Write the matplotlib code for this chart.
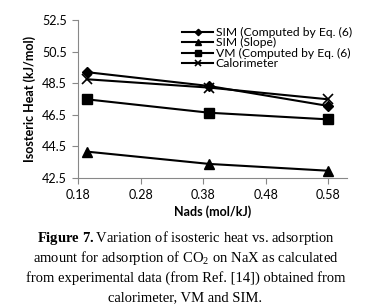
import matplotlib
matplotlib.use("Agg")
import matplotlib.pyplot as plt

plt.rcParams["font.family"] = ["Lato", "DejaVu Sans"]
plt.rcParams["mathtext.fontset"] = "custom"
plt.rcParams["mathtext.rm"] = "Liberation Serif"
plt.rcParams["mathtext.bf"] = "Liberation Serif:bold"

# data
nads = [0.194, 0.39, 0.58]
sim_eq6 = [49.2, 48.32, 47.06]
sim_slope = [44.17, 43.39, 42.96]
vm_eq6 = [47.48, 46.63, 46.21]
calorimeter = [48.75, 48.22, 47.48]

labels = ["SIM (Computed by Eq. (6)", "SIM (Slope)",
          "VM (Computed by Eq. (6)", "Calorimeter"]

x_ticks = [0.18, 0.28, 0.38, 0.48, 0.58]
y_ticks = [42.5, 44.5, 46.5, 48.5, 50.5, 52.5]

caption = [r"$\bf{Figure}$ $\bf{7.}$Variation of isosteric heat vs. adsorption",
           r"amount for adsorption of CO$_2$ on NaX as calculated",
           "from experimental data (from Ref. [14]) obtained from",
           "calorimeter, VM and SIM."]

fig = plt.figure(figsize=(3.71, 3.08), dpi=100)
ax = fig.add_axes([78 / 371, 1 - 178 / 308, (347 - 78) / 371, (178 - 20) / 308])

ax.plot(nads, sim_eq6, color="black", marker="D", markersize=5, lw=1.5, label=labels[0])
ax.plot(nads, sim_slope, color="black", marker="^", markersize=7, lw=1.5, label=labels[1])
ax.plot(nads, vm_eq6, color="black", marker="s", markersize=7, lw=1.5, label=labels[2])
ax.plot(nads, calorimeter, color="black", marker="x", markersize=7, mew=1.2, lw=1.5, label=labels[3])

ax.set_xlim(0.18, 0.61)
ax.set_ylim(42.5, 52.5)
ax.set_xticks(x_ticks)
ax.set_yticks(y_ticks)
ax.set_xticklabels([f"{v:.2f}" for v in x_ticks])
ax.set_yticklabels([f"{v:.1f}" for v in y_ticks])
ax.tick_params(labelsize=9, length=4, direction="out", color="#888888", pad=4)

for s in ["top", "right"]:
    ax.spines[s].set_visible(False)
for s in ["left", "bottom"]:
    ax.spines[s].set_color("#888888")

ax.set_xlabel("Nads (mol/kJ)", fontsize=9, fontweight="bold", labelpad=3)
ax.set_ylabel("Isosteric Heat (kJ/mol)", fontsize=9, fontweight="bold", labelpad=4)

ax.legend(loc="upper left", bbox_to_anchor=((182 - 78) / 269, 1 - 7 / 158),
          frameon=False, fontsize=8.7, markerscale=0.65,
          handlelength=2.6, handletextpad=0.2, labelspacing=-0.05,
          borderaxespad=0, borderpad=0)

baselines = [242, 262, 282, 301]
for line, yb in zip(caption, baselines):
    fig.text(0.5, 1 - yb / 308, line, ha="center", va="baseline",
             fontsize=10.5, family="Liberation Serif")

fig.savefig("out.png", dpi=100)
